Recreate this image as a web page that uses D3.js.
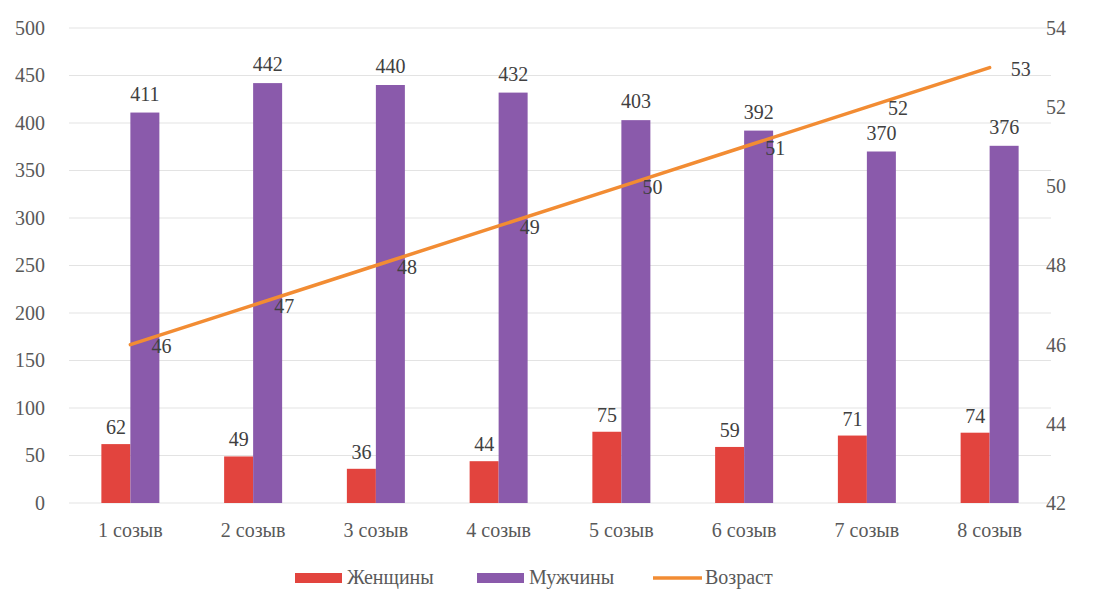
<!DOCTYPE html>
<html><head><meta charset="utf-8">
<script src="https://cdn.jsdelivr.net/npm/d3@7"></script>
<style>
body{margin:0;background:#fff;}
svg, svg text{font-family:"Liberation Serif","DejaVu Serif","Times New Roman",serif !important;}
</style></head>
<body><svg id="c" width="1099" height="593"></svg>
<script>
const categories = ["1 созыв","2 созыв","3 созыв","4 созыв","5 созыв","6 созыв","7 созыв","8 созыв"];
const women = [62,49,36,44,75,59,71,74];
const men = [411,442,440,432,403,392,370,376];
const age = [46,47,48,49,50,51,52,53];
const leftTicks = [0,50,100,150,200,250,300,350,400,450,500];
const rightTicks = [42,44,46,48,50,52,54];
const seriesNames = ["Женщины","Мужчины","Возраст"];
const colors = {women:"#E2443E", men:"#8A5AAB", age:"#F28C33"};

const svg = d3.select("#c");
const L = 69, R = 1051, T = 28, B = 503;
const x = d3.scaleBand().domain(categories).range([L,R]);
const yL = d3.scaleLinear().domain([0,500]).range([B,T]);
const yR = d3.scaleLinear().domain([42,54]).range([B,T]);
const bw = 29;
const FS = 20;

// gridlines
svg.append("g").selectAll("line").data(leftTicks).join("line")
  .attr("x1",L).attr("x2",R).attr("y1",d=>yL(d)).attr("y2",d=>yL(d))
  .attr("stroke","#e3e3e3").attr("stroke-width",1.2);

// left axis
const axL = svg.append("g").attr("transform",`translate(${L},0)`)
  .call(d3.axisLeft(yL).tickValues(leftTicks).tickSize(0).tickPadding(24));
axL.select(".domain").remove();
axL.attr("font-family",null).attr("font-size",null);
axL.selectAll("text").attr("font-size",FS).attr("fill","#595959");

// right axis
const axR = svg.append("g").attr("transform",`translate(${R},0)`)
  .call(d3.axisRight(yR).tickValues(rightTicks).tickSize(0).tickPadding(-5));
axR.select(".domain").remove();
axR.attr("font-family",null).attr("font-size",null);
axR.selectAll("text").attr("font-size",FS).attr("fill","#595959");

// bottom axis
const axB = svg.append("g").attr("transform",`translate(0,${B})`)
  .call(d3.axisBottom(x).tickSize(0).tickPadding(20));
axB.select(".domain").remove();
axB.attr("font-family",null).attr("font-size",null);
axB.selectAll("text").attr("font-size",FS).attr("fill","#595959");

const cx = d => x(d) + x.bandwidth()/2;

// bars
svg.append("g").selectAll("rect").data(categories).join("rect")
  .attr("x",d=>cx(d)-bw).attr("width",bw)
  .attr("y",(d,i)=>yL(women[i])).attr("height",(d,i)=>B-yL(women[i]))
  .attr("fill",colors.women);
svg.append("g").selectAll("rect").data(categories).join("rect")
  .attr("x",d=>cx(d)).attr("width",bw)
  .attr("y",(d,i)=>yL(men[i])).attr("height",(d,i)=>B-yL(men[i]))
  .attr("fill",colors.men);

// bar labels
svg.append("g").selectAll("text").data(categories).join("text")
  .attr("x",d=>cx(d)-bw/2).attr("y",(d,i)=>yL(women[i])-10)
  .attr("text-anchor","middle").attr("font-size",FS).attr("fill","#404040")
  .text((d,i)=>women[i]);
svg.append("g").selectAll("text").data(categories).join("text")
  .attr("x",d=>cx(d)+bw/2).attr("y",(d,i)=>yL(men[i])-12)
  .attr("text-anchor","middle").attr("font-size",FS).attr("fill","#404040")
  .text((d,i)=>men[i]);

// line
const line = d3.line().x((d,i)=>cx(categories[i])).y(d=>yR(d));
svg.append("path").datum(age).attr("d",line)
  .attr("fill","none").attr("stroke",colors.age).attr("stroke-width",3.5).attr("stroke-linecap","round");

svg.append("g").selectAll("text").data(age).join("text")
  .attr("x",(d,i)=>cx(categories[i])+21).attr("y",d=>yR(d)+8)
  .attr("font-size",FS).attr("fill","#404040")
  .text(d=>d);

// legend
const lg = svg.append("g").attr("font-size",FS).attr("fill","#595959");
const legendItems = [
  {name:seriesNames[0], color:colors.women, type:"rect", x:295},
  {name:seriesNames[1], color:colors.men, type:"rect", x:477},
  {name:seriesNames[2], color:colors.age, type:"line", x:653}
];
const ly = 578;
legendItems.forEach(it=>{
  if(it.type==="rect"){
    lg.append("rect").attr("x",it.x).attr("y",ly-5).attr("width",47).attr("height",10).attr("fill",it.color);
  } else {
    lg.append("line").attr("x1",it.x).attr("x2",it.x+49).attr("y1",ly).attr("y2",ly)
      .attr("stroke",it.color).attr("stroke-width",3.5);
  }
  lg.append("text").attr("x",it.x+52).attr("y",ly+6).attr("fill","#595959").text(it.name);
});
</script></body></html>
